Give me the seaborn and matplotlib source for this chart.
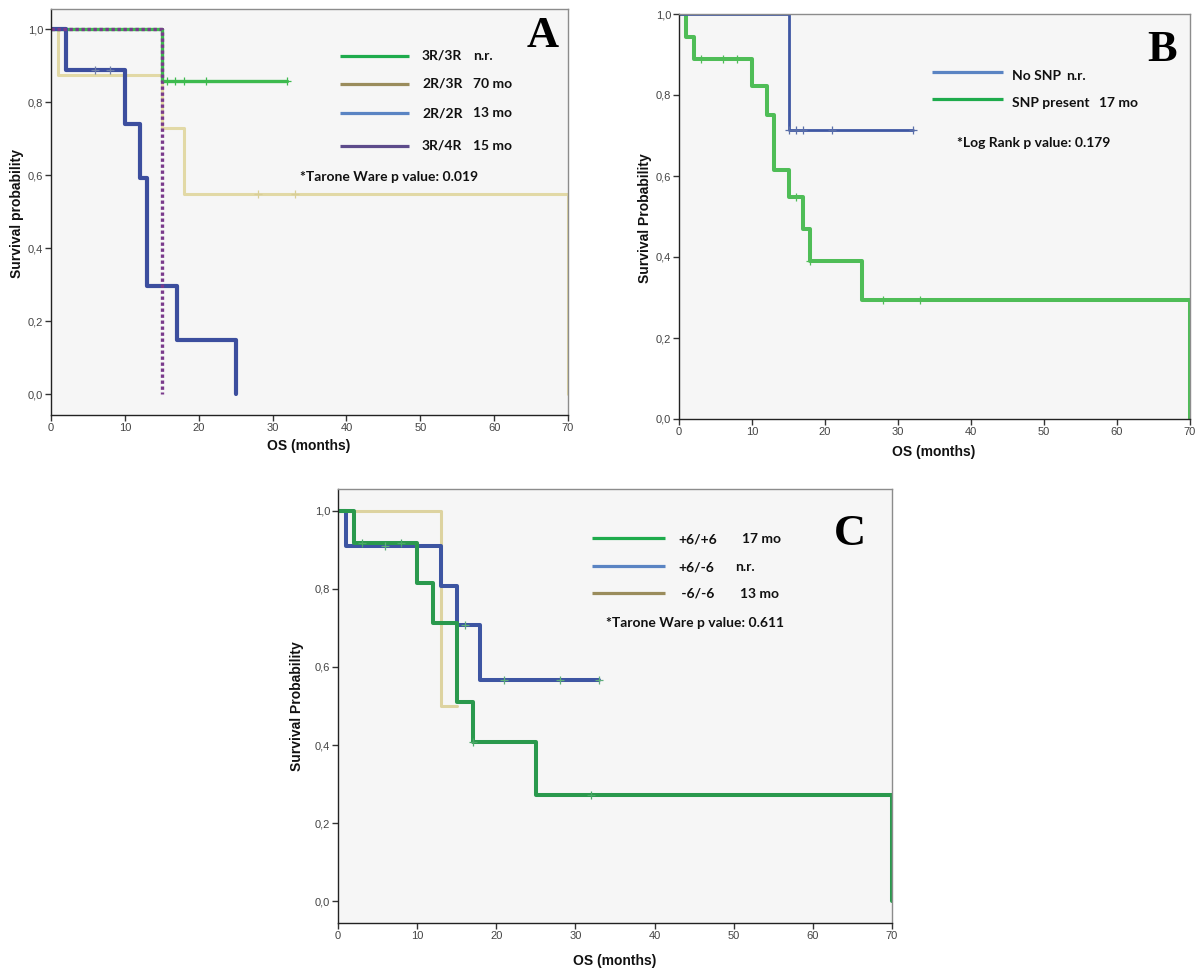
"""
Kaplan-Meier overall survival panels (A, B, C) redrawn with seaborn
"""

import numpy as np
import pandas as pd
import matplotlib
matplotlib.use("Agg")
import matplotlib.pyplot as plt
import seaborn as sns

# ---- values: step times (months), survival after each step ----

# Panel A
a_labels = ["3R/3R", "2R/3R", "2R/2R", "3R/4R"]
a_medians = ["n.r.", "70 mo", "13 mo", "15 mo"]
a_pvalue = "*Tarone Ware p value: 0.019"
a_33_time = [0, 15, 32]
a_33_surv = [1.0, 0.857, 0.857]
a_33_cens = [15.7, 16.8, 18, 21, 32]
a_23_time = [0, 1, 15, 18, 70]
a_23_surv = [1.0, 0.875, 0.729, 0.547, 0.0]
a_23_cens = [28, 33]
a_22_time = [0, 2, 10, 12, 13, 17, 25]
a_22_surv = [1.0, 0.889, 0.741, 0.593, 0.296, 0.148, 0.0]
a_22_cens = [6, 8]
a_34_time = [0, 15]
a_34_surv = [1.0, 0.0]

# Panel B
b_labels = ["No SNP", "SNP present"]
b_medians = ["n.r.", "17 mo"]
b_pvalue = "*Log Rank p value: 0.179"
b_no_time = [0, 15, 32]
b_no_surv = [1.0, 0.714, 0.714]
b_no_cens = [15, 16, 17, 21, 32]
b_snp_time = [0, 1, 2, 10, 12, 13, 15, 17, 18, 25, 70]
b_snp_surv = [1.0, 0.944, 0.889, 0.822, 0.75, 0.615, 0.547, 0.469, 0.391, 0.293, 0.0]
b_snp_cens = [3, 6, 8, 16, 18, 28, 33]

# Panel C
c_labels = ["+6/+6", "+6/-6", " -6/-6"]
c_medians = ["17 mo", "n.r.", "13 mo"]
c_pvalue = "*Tarone Ware p value: 0.611"
c_pp_time = [0, 2, 10, 12, 15, 17, 25, 70]
c_pp_surv = [1.0, 0.917, 0.815, 0.713, 0.509, 0.408, 0.272, 0.0]
c_pp_cens = [3, 8, 17, 32]
c_pm_time = [0, 1, 13, 15, 18, 33]
c_pm_surv = [1.0, 0.909, 0.808, 0.707, 0.566, 0.566]
c_pm_cens = [6, 16, 21, 28, 33]
c_mm_time = [0, 13, 15]
c_mm_surv = [1.0, 0.5, 0.5]

y_ticks = [0.0, 0.2, 0.4, 0.6, 0.8, 1.0]
y_tick_labels = ["0,0", "0,2", "0,4", "0,6", "0,8", "1,0"]
x_ticks = [0, 10, 20, 30, 40, 50, 60, 70]

W, H = 1200, 976

sns.set_style("white")
plt.rcParams['font.family'] = ['Liberation Sans', 'DejaVu Sans']

fig = plt.figure(figsize=(W / 100, H / 100), dpi=100)


def px(x, y):
    return x / W, 1 - y / H


def px_rect(left, top, right, bottom):
    return [left / W, 1 - bottom / H, (right - left) / W, (bottom - top) / H]


def ptext(x, y, s, **kw):
    fx, fy = px(x, y)
    fig.text(fx, fy, s, **kw)


def pline(x0, x1, y, color, lw=2.3):
    (fx0, fy), (fx1, _) = px(x0, y), px(x1, y)
    fig.add_artist(plt.Line2D([fx0, fx1], [fy, fy], color=color, linewidth=lw,
                              transform=fig.transFigure, solid_capstyle="butt"))


def km_line(ax, times, surv, color, lw, ls="-"):
    df = pd.DataFrame({"months": times, "surv": surv})
    sns.lineplot(data=df, x="months", y="surv", ax=ax, color=color, linewidth=lw,
                 linestyle=ls, drawstyle="steps-post", estimator=None, sort=False)


def km_censor(ax, times, surv, cens, color):
    idx = np.searchsorted(times, cens, side="right") - 1
    sns.scatterplot(x=cens, y=np.asarray(surv)[idx], ax=ax, marker="+",
                    color=color, s=28, linewidth=0.9, zorder=5)


def style_axes(ax, ylim):
    ax.set_xlim(0, 70)
    ax.set_ylim(*ylim)
    ax.set_facecolor("#f6f6f6")
    ax.set_xticks(x_ticks)
    ax.set_yticks(y_ticks)
    ax.set_yticklabels(y_tick_labels)
    ax.tick_params(direction="out", length=4, width=1, color="#333333",
                   labelsize=8, labelcolor="#444444", pad=1.5)
    ax.tick_params(left=True, bottom=True)
    for side in ["top", "right"]:
        ax.spines[side].set_color("#8c8c8c")
        ax.spines[side].set_linewidth(1)
    for side in ["left", "bottom"]:
        ax.spines[side].set_color("#222222")
        ax.spines[side].set_linewidth(1)
    ax.set_xlabel("")
    ax.set_ylabel("")


label_kw = dict(fontsize=10, fontweight="bold", ha="center", va="center", color="#111111")
leg_kw = dict(family=["Lato", "DejaVu Sans"], fontsize=10, fontweight="bold",
              va="center", ha="left", color="#111111")
letter_kw = dict(family=["Liberation Serif"], fontsize=32, fontweight="bold",
                 ha="center", va="center", color="black")

# ---------------- Panel A ----------------
ax_a = fig.add_axes(px_rect(51, 9, 568, 415))
km_line(ax_a, a_23_time, a_23_surv, "#e2d9a6", 2.2)
km_line(ax_a, a_33_time, a_33_surv, "#3dba4e", 2.4)
km_line(ax_a, a_22_time, a_22_surv, "#3c4e9e", 3.0)
km_line(ax_a, a_34_time, a_34_surv, "#7a3a8c", 2.4, ls=(0, (1, 0.8)))
km_censor(ax_a, a_33_time, a_33_surv, a_33_cens, "#3dba4e")
km_censor(ax_a, a_23_time, a_23_surv, a_23_cens, "#d9cf98")
km_censor(ax_a, a_22_time, a_22_surv, a_22_cens, "#6f7fa8")
style_axes(ax_a, (-0.057, 1.055))

a_leg_colors = ["#1eab4c", "#9a8c5c", "#5a84c3", "#5d4b8b"]
for lab, med, col, y in zip(a_labels, a_medians, a_leg_colors, [56, 84, 113, 146]):
    pline(340, 409, y, col)
    ptext(422, y, lab, **leg_kw)
    ptext(473, y, med, **leg_kw)
ptext(300, 177, a_pvalue, **leg_kw)
ptext(543, 36, "A", **letter_kw)
ptext(17, 213, "Survival probability", rotation=90, **label_kw)
ptext(309, 446, "OS (months)", **label_kw)

# ---------------- Panel B ----------------
ax_b = fig.add_axes(px_rect(679, 14, 1190, 419))
km_line(ax_b, b_snp_time, b_snp_surv, "#4fbd57", 2.9)
km_line(ax_b, b_no_time, b_no_surv, "#3f57a3", 2.0)
km_censor(ax_b, b_no_time, b_no_surv, b_no_cens, "#5a6fa8")
km_censor(ax_b, b_snp_time, b_snp_surv, b_snp_cens, "#4fbd57")
style_axes(ax_b, (0.0, 1.0))

b_leg_colors = ["#5a84c3", "#1eab4c"]
for lab, med, col, y, x2 in zip(b_labels, b_medians, b_leg_colors, [72, 99], [1066, 1099]):
    pline(932, 1003, y, col)
    ptext(1012, y + 4, lab, **leg_kw)
    ptext(x2, y + 4, med, **leg_kw)
ptext(957, 143, b_pvalue, **leg_kw)
ptext(1162, 50, "B", **letter_kw)
ptext(645, 218, "Survival Probability", rotation=90, **label_kw)
ptext(934, 452, "OS (months)", **label_kw)

# ---------------- Panel C ----------------
ax_c = fig.add_axes(px_rect(338, 489, 892, 923))
km_line(ax_c, c_mm_time, c_mm_surv, "#ddd3a0", 2.2)
km_line(ax_c, c_pm_time, c_pm_surv, "#3d55a2", 2.9)
km_line(ax_c, c_pp_time, c_pp_surv, "#2a994d", 2.9)
km_censor(ax_c, c_pp_time, c_pp_surv, c_pp_cens, "#4aa868")
km_censor(ax_c, c_pm_time, c_pm_surv, c_pm_cens, "#5fae7a")
style_axes(ax_c, (-0.056, 1.056))

c_leg_colors = ["#1eab4c", "#5a84c3", "#9a8c5c"]
for lab, med, col, y, x2 in zip(c_labels, c_medians, c_leg_colors, [538, 566, 593], [742, 735, 740]):
    pline(592, 665, y, col)
    ptext(678, y + 1, lab, **leg_kw)
    ptext(x2, y + 1, med, **leg_kw)
ptext(606, 623, c_pvalue, **leg_kw)
ptext(850, 534, "C", **letter_kw)
ptext(297, 706, "Survival Probability", rotation=90, **label_kw)
ptext(615, 961, "OS (months)", **label_kw)

fig.savefig("out.png", dpi=100, facecolor="white")
plt.close(fig)
